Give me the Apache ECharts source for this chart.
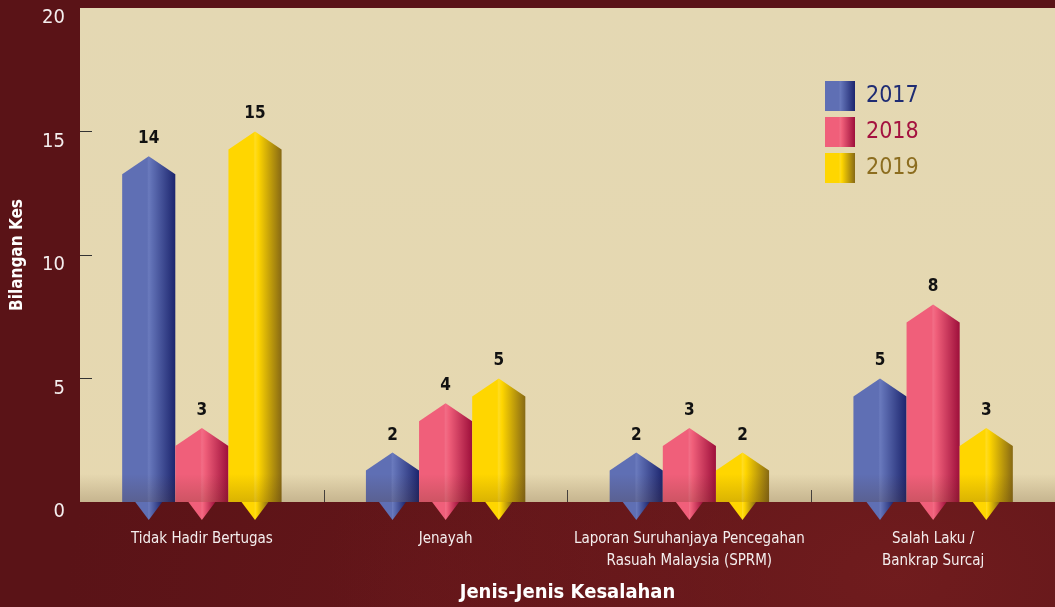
<!DOCTYPE html>
<html>
<head>
<meta charset="utf-8">
<script src="https://cdn.jsdelivr.net/npm/echarts@6/dist/echarts.min.js"></script>
<style>
  html, body { margin: 0; padding: 0; }
  body {
    width: 1055px; height: 607px; overflow: hidden;
    background:
      radial-gradient(ellipse at 85% 95%, rgba(130, 35, 35, 0.55), rgba(0,0,0,0) 45%),
      radial-gradient(ellipse at 40% 100%, rgba(110, 25, 28, 0.45), rgba(0,0,0,0) 40%),
      #5a1317;
  }
  #chart { width: 1055px; height: 607px; }
</style>
</head>
<body>
<div id="chart"></div>
<script>
    // data
    const categories = [
        'Tidak Hadir Bertugas',
        'Jenayah',
        'Laporan Suruhanjaya Pencegahan\nRasuah Malaysia (SPRM)',
        'Salah Laku /\nBankrap Surcaj'
    ];
    const years = ['2017', '2018', '2019'];
    const cases2017 = [14, 2, 2, 5];
    const cases2018 = [3, 4, 3, 8];
    const cases2019 = [15, 5, 2, 3];
    const yTicks = [5, 10, 15];

    const FONT = "'Liberation Sans Narrow', 'DejaVu Sans Condensed', 'Liberation Sans', sans-serif";

    const palette = [
        {light: '#5f6fb4', hi: '#6a7abd', dark: '#1c256e', text: '#1f2c73'},
        {light: '#f05f7a', hi: '#f26d86', dark: '#9e0f3b', text: '#a4123f'},
        {light: '#ffd600', hi: '#ffdc22', dark: '#876914', text: '#8c6d1f'}
    ];

    function barGradient(c) {
        return new echarts.graphic.LinearGradient(0, 0, 1, 0, [
            {offset: 0, color: c.light},
            {offset: 0.47, color: c.light},
            {offset: 0.5, color: c.hi},
            {offset: 0.56, color: c.light},
            {offset: 1, color: c.dark}
        ]);
    }

    function makeSeries(name, values, idx) {
        const c = palette[idx];
        return {
            type: 'custom',
            name: name,
            data: values.map((v, i) => [i, v]),
            itemStyle: {color: barGradient(c)},
            renderItem: function (params, api) {
                const cat = api.value(0);
                const val = api.value(1);
                const top = api.coord([cat, val]);
                const base = api.coord([cat, 0]);
                const band = api.size([1, 0])[0];
                const w = band * 0.218;
                const cx = top[0] + (idx - 1) * w;
                const shoulder = 18;
                const tri = 13.5;
                return {
                    type: 'group',
                    children: [
                        {
                            type: 'polygon',
                            shape: {points: [
                                [cx - w / 2, base[1]],
                                [cx - w / 2, top[1] + shoulder],
                                [cx, top[1]],
                                [cx + w / 2, top[1] + shoulder],
                                [cx + w / 2, base[1]]
                            ]},
                            style: {fill: barGradient(c)}
                        },
                        {
                            type: 'polygon',
                            shape: {points: [
                                [cx - tri, base[1]],
                                [cx + tri, base[1]],
                                [cx, base[1] + 18]
                            ]},
                            style: {fill: barGradient(c)}
                        },
                        {
                            type: 'text',
                            style: {
                                x: cx, y: top[1] - 9,
                                text: String(val),
                                align: 'center', verticalAlign: 'bottom',
                                fill: '#111', fontSize: 17, fontWeight: 'bold',
                                fontFamily: FONT
                            }
                        }
                    ]
                };
            }
        };
    }

    const chart = echarts.init(document.getElementById('chart'));
    chart.setOption({
        backgroundColor: 'transparent',
        animation: false,
        textStyle: {fontFamily: FONT},
        grid: {
            left: 80, right: 0, top: 8, bottom: 105,
            outerBoundsMode: 'none',
            containLabel: false,
            show: true, borderWidth: 0,
            backgroundColor: new echarts.graphic.LinearGradient(0, 0, 0, 1, [
                {offset: 0, color: '#e4d8b3'},
                {offset: 1, color: '#e6d8b0'}
            ])
        },
        legend: {
            orient: 'vertical',
            left: 825, top: 81,
            padding: 0,
            itemWidth: 30, itemHeight: 30, itemGap: 6,
            icon: 'rect',
            data: years.map((y, i) => ({
                name: y,
                textStyle: {color: palette[i].text}
            })),
            textStyle: {fontSize: 23, fontWeight: 500, fontFamily: FONT, padding: [0, 0, 0, 6]}
        },
        xAxis: {
            type: 'category',
            data: categories,
            axisLine: {show: false},
            axisTick: {
                show: true, inside: true, length: 12,
                interval: function (index) { return index !== 0; },
                lineStyle: {color: '#444'}
            },
            axisLabel: {color: '#f4eeee', fontSize: 15, lineHeight: 22, margin: 26, interval: 0, fontFamily: FONT},
            name: 'Jenis-Jenis Kesalahan',
            nameLocation: 'middle',
            nameGap: 81,
            nameTextStyle: {color: '#fff', fontSize: 20, fontWeight: 'bold', fontFamily: FONT}
        },
        yAxis: {
            type: 'value',
            min: 0, max: 20, interval: 5,
            axisLine: {show: false},
            splitLine: {show: false},
            axisTick: {show: true, inside: true, length: 12, customValues: yTicks, lineStyle: {color: '#333'}},
            axisLabel: {color: '#f4eeee', fontSize: 20, margin: 15, verticalAlign: 'top', fontFamily: FONT},
            name: 'Bilangan Kes',
            nameLocation: 'middle',
            nameGap: 54,
            nameTextStyle: {color: '#fff', fontSize: 17, fontWeight: 'bold', fontFamily: FONT}
        },
        graphic: [
            {
                type: 'rect', left: 80, top: 474, z: 100, silent: true,
                shape: {width: 975, height: 28},
                style: {fill: new echarts.graphic.LinearGradient(0, 0, 0, 1, [
                    {offset: 0, color: 'rgba(70,40,10,0)'},
                    {offset: 1, color: 'rgba(70,40,10,0.2)'}
                ])}
            }
        ],
        series: [
            makeSeries('2017', cases2017, 0),
            makeSeries('2018', cases2018, 1),
            makeSeries('2019', cases2019, 2)
        ]
    });
</script>
</body>
</html>
